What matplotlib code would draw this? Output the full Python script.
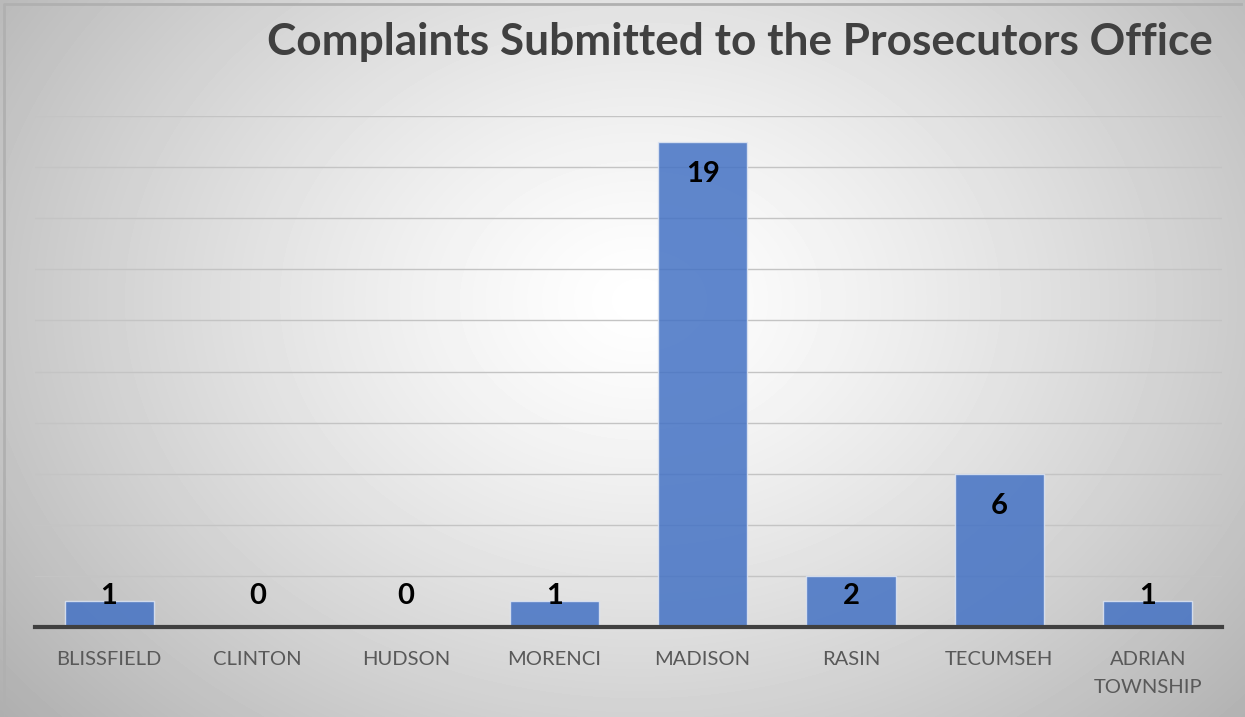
import numpy as np
import matplotlib
matplotlib.use("Agg")
from matplotlib import pyplot as plt

categories = ["BLISSFIELD", "CLINTON", "HUDSON", "MORENCI", "MADISON",
              "RASIN", "TECUMSEH", "ADRIAN\nTOWNSHIP"]
complaints = [1, 0, 0, 1, 19, 2, 6, 1]
title = "Complaints Submitted to the Prosecutors Office"

plt.rcParams['font.family'] = ['Lato', 'DejaVu Sans']

fig = plt.figure(figsize=(12.45, 7.17), dpi=100)

# radial gradient background
bg = fig.add_axes([0, 0, 1, 1])
yy, xx = np.mgrid[0:717, 0:1245]
r = np.sqrt(((xx - 640) / 700.0) ** 2 + ((yy - 300) / 540.0) ** 2)
shade = 1.0 - 0.25 * np.clip(r, 0, 1.3) ** 1.3
bg.imshow(shade, cmap="gray", vmin=0, vmax=1, aspect="auto",
          extent=[0, 1, 0, 1])
bg.plot([0.003, 0.003, 0.997], [0.0, 0.995, 0.995], color="#b0b0b0",
        lw=2, transform=bg.transAxes)
bg.set_axis_off()

ax = fig.add_axes([0.028, 0.1255, 0.9535, 0.7125])
ax.patch.set_alpha(0)
x = np.arange(len(categories))
bars = ax.bar(x, complaints, width=0.6, color="#4472C4", alpha=0.85,
              edgecolor="#dfe6f3", linewidth=1, zorder=2)
ax.set_xlim(-0.5, len(categories) - 0.5)
ax.set_ylim(0, 20)
ax.set_yticks(np.arange(0, 21, 2))
ax.yaxis.grid(True, color="#c4c4c4", lw=1, zorder=0)
ax.set_axisbelow(True)
ax.tick_params(axis="y", left=False, labelleft=False)
ax.tick_params(axis="x", bottom=False, pad=14)
ax.set_xticks(x)
ax.set_xticklabels(categories, fontsize=14.5, color="#595959",
                   linespacing=1.75, va="top")
for s in ["top", "right", "left"]:
    ax.spines[s].set_visible(False)
ax.spines["bottom"].set_color("#404040")
ax.spines["bottom"].set_linewidth(3)
ax.spines["bottom"].set_zorder(3)

# data labels: inside end, but never lower than just above the axis
for xi, v in zip(x, complaints):
    ax.text(xi, max(v - 1.25, 1.2), str(v), ha="center", va="center",
            fontsize=21, fontweight="bold", color="black", zorder=4)

fig.text(0.974, 0.942, title, ha="right", va="center", fontsize=31.8,
         fontweight="bold", color="#404040")

fig.savefig("out.png", dpi=100)
